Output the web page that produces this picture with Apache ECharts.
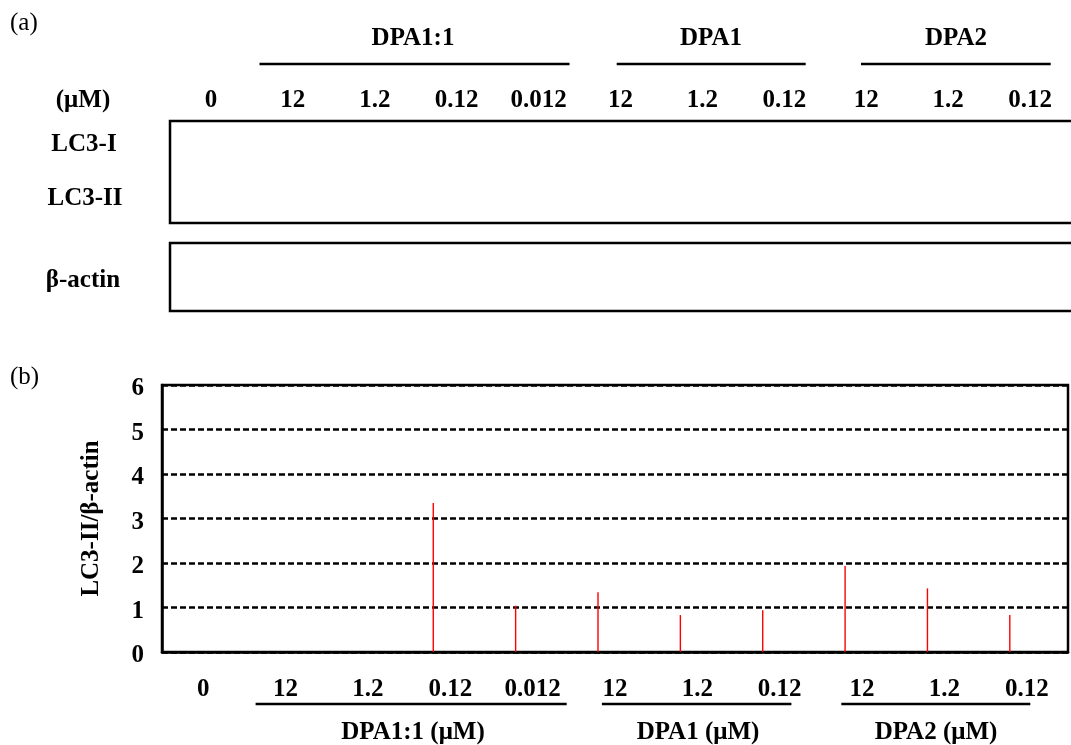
<!DOCTYPE html>
<html>
<head>
<meta charset="utf-8">
<script src="https://cdn.jsdelivr.net/npm/echarts@6/dist/echarts.min.js"></script>
<style>
  html, body { margin: 0; padding: 0; background: #fff; }
  #chart { width: 1071px; height: 745px; }
</style>
</head>
<body>
<div id="chart"></div>
<script>
// Lane concentrations (µM), left to right
const lanes = ['0', '12', '1.2', '0.12', '0.012', '12', '1.2', '0.12', '12', '1.2', '0.12'];
// Treatment groups
const groups = ['DPA1:1', 'DPA1', 'DPA2'];
// LC3-II / beta-actin ratio per lane (no bar drawn for the first three lanes)
const ratio = [null, null, null, 3.35, 1.04, 1.34, 0.83, 0.94, 1.93, 1.43, 0.83];
// Y axis range
const yMin = 0, yMax = 6, yStep = 1;

const FONT_FAMILY = '"Liberation Serif", "Times New Roman", serif';
const BOLD = 'bold 25px ' + FONT_FAMILY;
const REG = '25px ' + FONT_FAMILY;

function txt(text, x, y, font, align) {
  return {
    type: 'text',
    silent: true,
    style: {
      text: text, x: x, y: y, font: font || BOLD, fill: '#000',
      textAlign: align || 'center', textVerticalAlign: 'middle'
    }
  };
}
function hline(x1, x2, y, w) {
  return {
    type: 'line', silent: true,
    shape: { x1: x1, y1: y, x2: x2, y2: y },
    style: { stroke: '#000', lineWidth: w || 2.5 }
  };
}
function box(x, y, w, h) {
  return {
    type: 'rect', silent: true,
    shape: { x: x, y: y, width: w, height: h },
    style: { fill: 'transparent', stroke: '#000', lineWidth: 2.5 }
  };
}

const chart = echarts.init(document.getElementById('chart'), null, { renderer: 'canvas' });

const labelStyle = {
  fontFamily: FONT_FAMILY, fontWeight: 'bold', fontSize: 25, color: '#000'
};

chart.setOption({
  animation: false,
  backgroundColor: '#fff',
  grid: [
    // (b) plot frame
    { left: 162, top: 385, width: 906, height: 267, show: true, borderColor: '#000', borderWidth: 2.5, backgroundColor: 'transparent' },
    // (b) bar layer
    { left: 145, top: 385, width: 906, height: 267 },
    // (a) lane header
    { left: 170, top: 121, width: 904, height: 102 }
  ],
  xAxis: [
    {
      gridIndex: 0, type: 'category', data: lanes,
      axisTick: { show: false },
      axisLine: { lineStyle: { color: '#000', width: 2.5 } },
      axisLabel: Object.assign({ margin: 25, interval: 0 }, labelStyle)
    },
    { gridIndex: 1, type: 'category', data: lanes, show: false },
    {
      gridIndex: 2, type: 'category', data: lanes, position: 'top',
      axisTick: { show: false }, axisLine: { show: false },
      axisLabel: Object.assign({ margin: 8, interval: 0 }, labelStyle)
    }
  ],
  yAxis: [
    {
      gridIndex: 0, type: 'value', min: yMin, max: yMax, interval: yStep,
      axisLine: { show: true, lineStyle: { color: '#000', width: 2.5 } },
      axisTick: { show: false },
      splitLine: { show: true, lineStyle: { color: '#000', width: 2.5, type: [6, 3] } },
      axisLabel: Object.assign({ margin: 18, verticalAlign: 'top', lineHeight: 8 }, labelStyle),
      name: 'LC3-II/\u03b2-actin', nameLocation: 'middle', nameGap: 58,
      nameTextStyle: labelStyle
    },
    { gridIndex: 1, type: 'value', min: yMin, max: yMax, show: false },
    { gridIndex: 2, type: 'value', show: false }
  ],
  series: [
    {
      type: 'bar', xAxisIndex: 1, yAxisIndex: 1, data: ratio,
      barWidth: 1.4, silent: true,
      itemStyle: { color: '#ff0000' }
    }
  ],
  graphic: [
    // panel (a)
    txt('(a)', 10, 23, REG, 'left'),
    txt(groups[0], 413, 39), txt(groups[1], 711, 39), txt(groups[2], 956, 39),
    hline(259.5, 569.5, 64), hline(616.7, 805.7, 64), hline(861, 1050.7, 64),
    txt('(\u03bcM)', 83, 101),
    txt('LC3-I', 84, 145), txt('LC3-II', 85, 199), txt('\u03b2-actin', 83, 281),
    box(170, 121, 910, 102),
    box(170, 243, 910, 68),
    // panel (b)
    txt('(b)', 10, 377, REG, 'left'),
    hline(255.6, 566.7, 704), hline(601.9, 791.4, 704), hline(841.3, 1030.3, 704),
    txt(groups[0] + ' (\u03bcM)', 413, 733),
    txt(groups[1] + ' (\u03bcM)', 698, 733),
    txt(groups[2] + ' (\u03bcM)', 936, 733)
  ]
});
</script>
</body>
</html>
